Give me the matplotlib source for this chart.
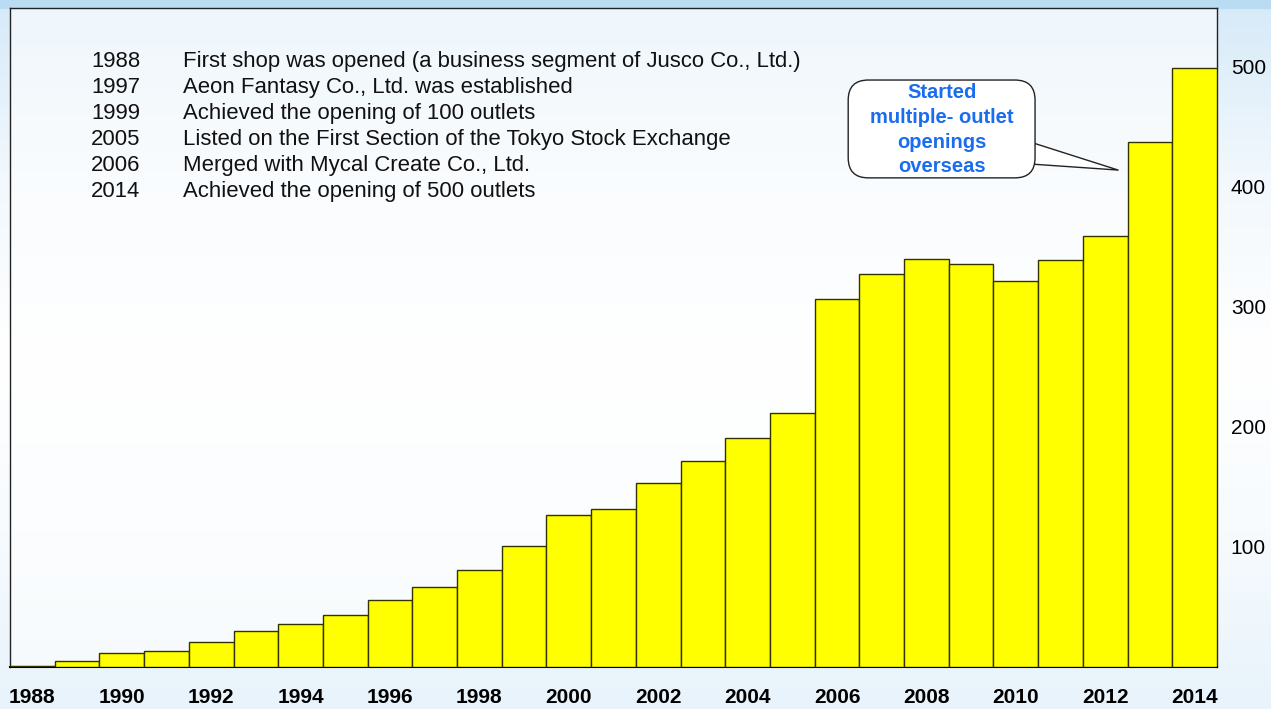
import numpy as np
import matplotlib
matplotlib.use("Agg")
import matplotlib.pyplot as plt
from matplotlib.patches import FancyBboxPatch

years = list(range(1988, 2015))
outlets = [1, 5, 12, 13, 21, 30, 36, 43, 56, 67, 81, 101, 127, 132, 153,
           172, 191, 212, 307, 327, 340, 336, 322, 339, 359, 437, 499]
y_ticks = [100, 200, 300, 400, 500]

event_years = ["1988", "1997", "1999", "2005", "2006", "2014"]
event_texts = [
    "First shop was opened (a business segment of Jusco Co., Ltd.)",
    "Aeon Fantasy Co., Ltd. was established",
    "Achieved the opening of 100 outlets",
    "Listed on the First Section of the Tokyo Stock Exchange",
    "Merged with Mycal Create Co., Ltd.",
    "Achieved the opening of 500 outlets",
]
callout_text = "Started\nmultiple- outlet\nopenings\noverseas"


def main():
    plt.rcParams["font.family"] = ["Liberation Sans", "DejaVu Sans"]
    fig = plt.figure(figsize=(12.71, 7.09), dpi=100)

    # soft blue background like the slide
    bg = fig.add_axes([0, 0, 1, 1], zorder=-10)
    grad = np.linspace(0, 1, 256).reshape(-1, 1)
    cmap = matplotlib.colors.LinearSegmentedColormap.from_list(
        "bg", ["#d6eaf8", "#f2f8fd", "#ffffff", "#f7fbfe", "#e8f3fb"])
    bg.imshow(grad, aspect="auto", cmap=cmap, extent=[0, 1, 0, 1])
    bg.axhspan(0.989, 1.0, color="#b9dcf3")
    bg.set_xlim(0, 1)
    bg.set_ylim(0, 1)
    bg.axis("off")

    ax = fig.add_axes([0.0079, 0.0592, 0.9496, 0.9295])
    ax.set_facecolor((1, 1, 1, 0.6))
    x = np.arange(len(years))
    ax.bar(x, outlets, width=1.0, color="#ffff00", edgecolor="#333300",
           linewidth=1.0, zorder=3)

    ax.set_xlim(-0.5, len(years) - 0.5)
    ax.set_ylim(0, 549)
    ax.set_xticks(x[::2])
    ax.set_xticklabels([str(y) for y in years[::2]], fontsize=15,
                       fontweight="bold", fontstretch="condensed")
    ax.tick_params(axis="x", length=0, pad=15)
    ax.yaxis.tick_right()
    ax.set_yticks(y_ticks)
    ax.set_yticklabels([str(v) for v in y_ticks], fontsize=15)
    ax.tick_params(axis="y", length=0, pad=10)
    for side in ["left", "right", "top"]:
        ax.spines[side].set_color("#222222")
        ax.spines[side].set_linewidth(1.0)
    ax.spines["bottom"].set_linewidth(1.5)

    # milestone list (shared baseline for year and description)
    for i, (yr, txt) in enumerate(zip(event_years, event_texts)):
        ty = 1 - (67 + i * 26) / 709
        fig.text(0.0716, ty, yr, fontsize=15.9, va="baseline", color="#111111")
        fig.text(0.144, ty, txt, fontsize=15.9, va="baseline", color="#111111")

    # callout: pointer, rounded box, then text on top
    ax.annotate("", xy=(24.29, 414), xytext=(21.9, 431),
                arrowprops=dict(arrowstyle="wedge,tail_width=1.3,shrink_factor=0.5",
                                fc="white", ec="#222222", lw=1.0,
                                shrinkA=0, shrinkB=0, mutation_scale=14.5),
                zorder=5)
    box = FancyBboxPatch((18.25, 407.5), 22.43 - 18.25, 489 - 407.5,
                         boxstyle="round,pad=0,rounding_size=0.45",
                         mutation_aspect=37.25, fc="white", ec="#222222",
                         lw=1.0, zorder=6)
    ax.add_patch(box)
    ax.text(20.35, 447.5, callout_text, ha="center", va="center",
            fontsize=14.5, fontweight="bold", color="#1a6cf0",
            linespacing=1.38, zorder=7)

    fig.savefig("out.png", dpi=100)


if __name__ == "__main__":
    main()
